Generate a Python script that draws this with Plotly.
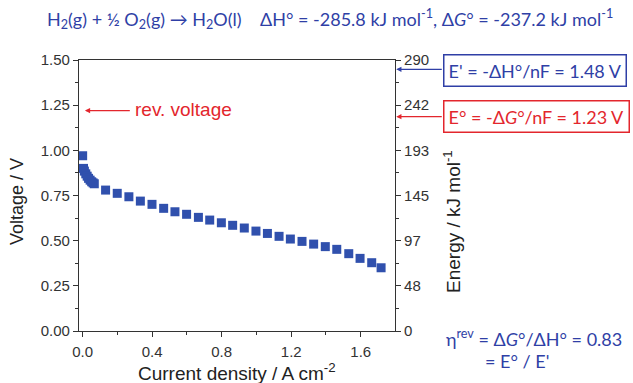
import plotly.graph_objects as go

current = [0.0, 0.005, 0.010, 0.018, 0.026, 0.034, 0.043, 0.052, 0.060, 0.067,
           0.132, 0.199, 0.266, 0.332, 0.399, 0.466, 0.531, 0.598, 0.666, 0.731,
           0.798, 0.863, 0.930, 0.997, 1.063, 1.130, 1.195, 1.262, 1.329, 1.396,
           1.462, 1.531, 1.596, 1.663, 1.717]
voltage = [0.970, 0.900, 0.885, 0.870, 0.857, 0.845, 0.835, 0.826, 0.820, 0.815,
           0.780, 0.762, 0.743, 0.719, 0.701, 0.679, 0.660, 0.646, 0.629, 0.614,
           0.599, 0.585, 0.570, 0.553, 0.540, 0.524, 0.509, 0.496, 0.481, 0.467,
           0.452, 0.428, 0.402, 0.378, 0.350]

x_ticks = [0.0, 0.4, 0.8, 1.2, 1.6]
x_ticktext = ["0.0", "0.4", "0.8", "1.2", "1.6"]
v_ticks = [0.0, 0.25, 0.5, 0.75, 1.0, 1.25, 1.5]
v_ticktext = ["0.00", "0.25", "0.50", "0.75", "1.00", "1.25", "1.50"]
energy_ticktext = ["0", "48", "97", "145", "193", "242", "290"]

BLUE = "#2f3fa6"
MARK = "#3050ad"
RED = "#e3262d"
TXT = "#222222"
FONT = "Liberation Sans, Arial, sans-serif"
CFONT = "Lato, Noto Sans, sans-serif"

fig = go.Figure()
fig.add_trace(go.Scatter(
    x=current, y=voltage, mode="markers",
    marker=dict(symbol="square", size=9, color=MARK, line=dict(width=0)),
    showlegend=False, cliponaxis=False))
fig.add_trace(go.Scatter(x=[None], y=[None], yaxis="y2", showlegend=False))

axis_common = dict(showgrid=False, zeroline=False, showline=True, linecolor="#333",
                   linewidth=1.2, ticks="outside", tickcolor="#333", ticklen=5,
                   tickfont=dict(family=FONT, size=15, color="#333"))

fig.update_layout(
    width=633, height=383,
    margin=dict(l=79, r=238, t=60, b=52, autoexpand=False),
    paper_bgcolor="white", plot_bgcolor="white",
    xaxis=dict(range=[-0.021, 1.797], tickvals=x_ticks, ticktext=x_ticktext,
               minor=dict(ticks="outside", ticklen=3, tickcolor="#333", dtick=0.2, tick0=0),
               mirror=True, ticklabelstandoff=2, **axis_common),
    yaxis=dict(range=[0, 1.5], tickvals=v_ticks, ticktext=v_ticktext,
               minor=dict(ticks="outside", ticklen=3, tickcolor="#333", dtick=0.125, tick0=0),
               **axis_common),
    yaxis2=dict(range=[0, 1.5], overlaying="y", side="right", tickvals=v_ticks,
                ticktext=energy_ticktext,
                minor=dict(ticks="outside", ticklen=3, tickcolor="#333", dtick=0.125, tick0=0),
                **axis_common),
)


def px(xp):
    return (xp - 79) / 316


def py(yp):
    return (331 - yp) / 271


ann = []
base = dict(xref="paper", yref="paper", showarrow=False, xanchor="center", yanchor="middle")
# title
ann.append(dict(base, x=px(330), y=py(19),
                text="H<sub>2</sub>(g) + ½ O<sub>2</sub>(g) → H<sub>2</sub>O(l)    ΔH° = -285.8 kJ mol<sup>-1</sup>, Δ<i>G</i>° = -237.2 kJ mol<sup>-1</sup>",
                font=dict(family=CFONT, size=18, color=BLUE)))
# axis titles
ann.append(dict(base, x=px(17), y=py(202), text="Voltage / V", textangle=-90,
                font=dict(family=FONT, size=18, color=TXT)))
ann.append(dict(base, x=px(452), y=py(222), text="Energy / kJ mol<sup>-1</sup>", textangle=-90,
                font=dict(family=FONT, size=19, color=TXT)))
ann.append(dict(base, x=px(237), y=py(372), text="Current density / A cm<sup>-2</sup>",
                font=dict(family=FONT, size=19, color=TXT)))
# rev. voltage arrow
ann.append(dict(xref="x", yref="y", x=0.013, y=1.22, axref="x", ayref="y", ax=0.28, ay=1.22,
                showarrow=True, arrowhead=2, arrowsize=0.8, arrowwidth=1.3, arrowcolor=RED, text=""))
ann.append(dict(xref="x", yref="y", x=0.29, y=1.225, xanchor="left", yanchor="middle", showarrow=False,
                text="rev. voltage", font=dict(family=FONT, size=19, color=RED)))
# boxes
ann.append(dict(base, x=px(443), y=py(70.5), xanchor="left",
                text="E' = -ΔH°/nF = 1.48 V", bordercolor=BLUE, borderwidth=1.5,
                borderpad=4, bgcolor="white", font=dict(family=CFONT, size=18, color=BLUE)))
ann.append(dict(base, x=px(443), y=py(116.5), xanchor="left",
                text="E° = -Δ<i>G</i>°/nF = 1.23 V", bordercolor=RED, borderwidth=1.5,
                borderpad=4, bgcolor="white", font=dict(family=CFONT, size=18, color=RED)))
# box arrows
ann.append(dict(xref="paper", yref="paper", x=1.004, y=py(69.3), ax=47, ay=0,
                showarrow=True, arrowhead=2, arrowsize=0.8, arrowwidth=1.3, arrowcolor=BLUE, text=""))
ann.append(dict(xref="paper", yref="paper", x=1.004, y=py(116.7), ax=47, ay=0,
                showarrow=True, arrowhead=2, arrowsize=0.8, arrowwidth=1.3, arrowcolor=RED, text=""))
# efficiency text
ann.append(dict(base, x=px(444), y=py(338), xanchor="left",
                text="η<sup>rev</sup> = Δ<i>G</i>°/ΔH° = 0.83",
                font=dict(family=CFONT, size=18, color=BLUE)))
ann.append(dict(base, x=px(483), y=py(361), xanchor="left", text="= E° / E'",
                font=dict(family=CFONT, size=18, color=BLUE)))
fig.update_layout(annotations=ann)

fig.write_html("out.html")
